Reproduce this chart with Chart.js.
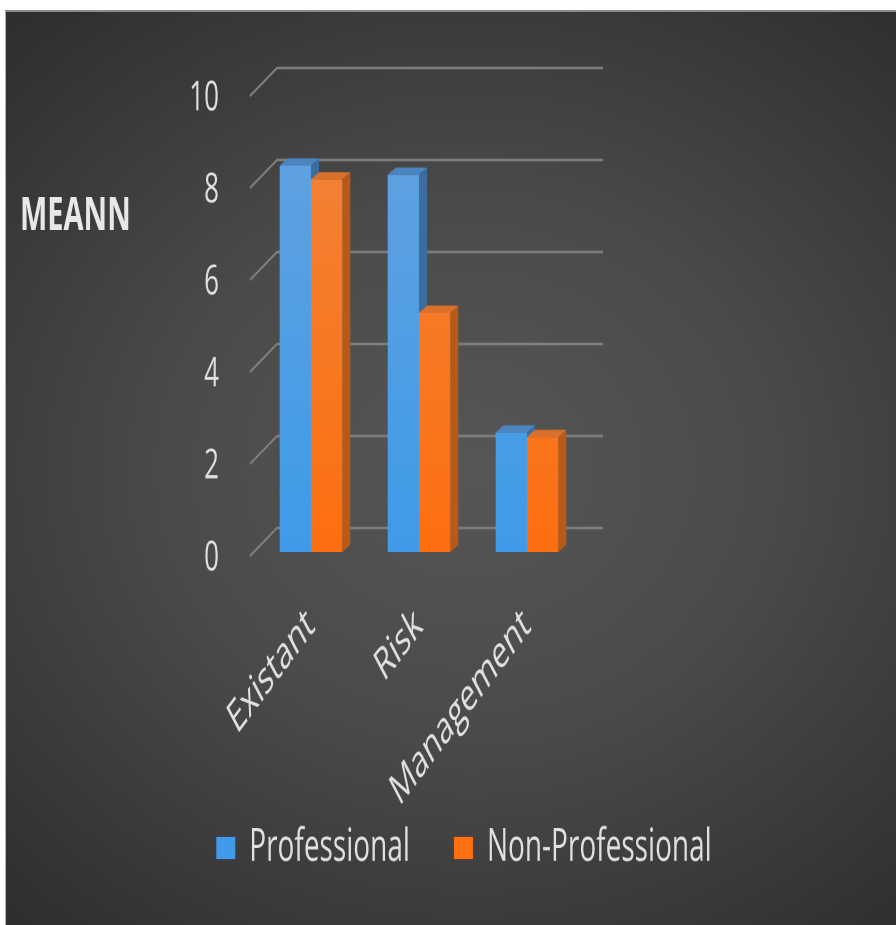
<!DOCTYPE html>
<html>
<head>
<meta charset="utf-8">
<script src="https://cdn.jsdelivr.net/npm/chart.js@4.4.1/dist/chart.umd.min.js"></script>
<style>
  html, body { margin: 0; padding: 0; background: #fff; }
  body { width: 896px; height: 925px; position: relative; overflow: hidden; }
  #bg {
    position: absolute; left: 5px; top: 10px; right: 0; bottom: 0;
    border-top: 2px solid #8a8a8a; border-left: 1px solid #b0b0b0;
    background: radial-gradient(ellipse 75% 65% at 52% 50%, #565656 0%, #4a4a4a 45%, #2f2f2f 100%);
  }
  /* the reference picture is stretched vertically, so draw flat and stretch */
  #wrap {
    position: absolute; left: 0; top: 0; width: 896px; height: 578.125px;
    transform: scaleY(1.6); transform-origin: 0 0;
  }
  #title {
    position: absolute; left: 20px; top: 118px;
    font: bold 29px 'Open Sans', sans-serif; color: #e8e8e8; line-height: 1;
  }
</style>
</head>
<body>
<div id="bg"></div>
<div id="wrap">
  <canvas id="meanChart" width="896" height="578"></canvas>
  <div id="title">MEANN</div>
</div>
<script>
const categories = ['Existant', 'Risk', 'Management'];
const professional = [8.4, 8.2, 2.6];
const nonProfessional = [8.1, 5.2, 2.5];
const yTicks = [0, 2, 4, 6, 8, 10];

const FONT = "'Open Sans', sans-serif";
const DX = 8, DY = -4.5; // bar depth

function frontFill(top, bottom) {
    return (ctx) => {
        const area = ctx.chart.chartArea;
        if (!area) return bottom;
        const g = ctx.chart.ctx.createLinearGradient(0, area.top, 0, area.bottom);
        g.addColorStop(0, top);
        g.addColorStop(1, bottom);
        return g;
    };
}

// back wall gridlines + side/top faces of the bars, drawn under the fronts
const depth3d = {
    id: 'depth3d',
    afterLayout(chart) {
        // let the long rotated label run into the legend band
        chart.scales.x.bottom += 36;
    },
    beforeDatasetsDraw(chart) {
        const ctx = chart.ctx;
        const xs = chart.scales.x, ys = chart.scales.y;
        ctx.save();
        ctx.strokeStyle = '#808080';
        ctx.lineWidth = 1.6;
        yTicks.forEach(v => {
            const y = ys.getPixelForValue(v);
            ctx.beginPath();
            ctx.moveTo(xs.left - 7, y + 2.5);
            ctx.lineTo(xs.left + 20, y - 15);
            ctx.lineTo(xs.right + 22, y - 15);
            ctx.stroke();
        });
        const faces = [
            { side: '#3b6d9e', top: '#4c84bd' },
            { side: '#b65a1a', top: '#d9702b' },
        ];
        chart.data.datasets.forEach((ds, i) => {
            chart.getDatasetMeta(i).data.forEach(bar => {
                const l = bar.x - bar.width / 2, r = bar.x + bar.width / 2;
                ctx.fillStyle = faces[i].side;
                ctx.beginPath();
                ctx.moveTo(r, bar.y);
                ctx.lineTo(r + DX, bar.y + DY);
                ctx.lineTo(r + DX, bar.base + DY);
                ctx.lineTo(r, bar.base);
                ctx.closePath();
                ctx.fill();
                ctx.fillStyle = faces[i].top;
                ctx.beginPath();
                ctx.moveTo(l, bar.y);
                ctx.lineTo(l + DX, bar.y + DY);
                ctx.lineTo(r + DX, bar.y + DY);
                ctx.lineTo(r, bar.y);
                ctx.closePath();
                ctx.fill();
            });
        });
        ctx.restore();
    },
};

new Chart(document.getElementById('meanChart'), {
    type: 'bar',
    data: {
        labels: categories,
        datasets: [
            {
                label: 'Professional',
                data: professional,
                backgroundColor: frontFill('#64a2de', '#3f9be9'),
                categoryPercentage: 0.58,
                barPercentage: 1.0,
            },
            {
                label: 'Non-Professional',
                data: nonProfessional,
                backgroundColor: frontFill('#f1843c', '#fd6f10'),
                categoryPercentage: 0.58,
                barPercentage: 1.0,
            },
        ],
    },
    options: {
        responsive: false,
        animation: false,
        devicePixelRatio: 2,
        layout: { padding: { left: 32, right: 0, top: 57.5, bottom: 24 } },
        plugins: {
            tooltip: { enabled: false },
            legend: {
                position: 'bottom',
                labels: {
                    color: '#e0e0e0',
                    font: { family: FONT, size: 28 },
                    boxWidth: 19,
                    boxHeight: 14,
                    padding: 44,
                },
            },
        },
        scales: {
            x: {
                grid: { display: false, drawTicks: false },
                border: { display: false },
                ticks: {
                    color: '#e0e0e0',
                    font: { family: FONT, size: 28 },
                    minRotation: 40,
                    maxRotation: 40,
                    padding: 29,
                },
                afterFit(scale) { scale.height = 127; },
            },
            y: {
                min: 0,
                max: 10,
                grid: { display: false, drawTicks: false },
                border: { display: false },
                ticks: {
                    stepSize: 2,
                    color: '#e0e0e0',
                    font: { family: FONT, size: 26 },
                    padding: 38,
                    labelOffset: 4,
                },
                afterFit(scale) { scale.width = 225; },
            },
            yRight: {
                type: 'linear',
                position: 'right',
                grid: { display: false, drawTicks: false },
                border: { display: false },
                ticks: { display: false },
                afterFit(scale) { scale.width = 315; },
            },
        },
    },
    plugins: [depth3d],
});
</script>
</body>
</html>
